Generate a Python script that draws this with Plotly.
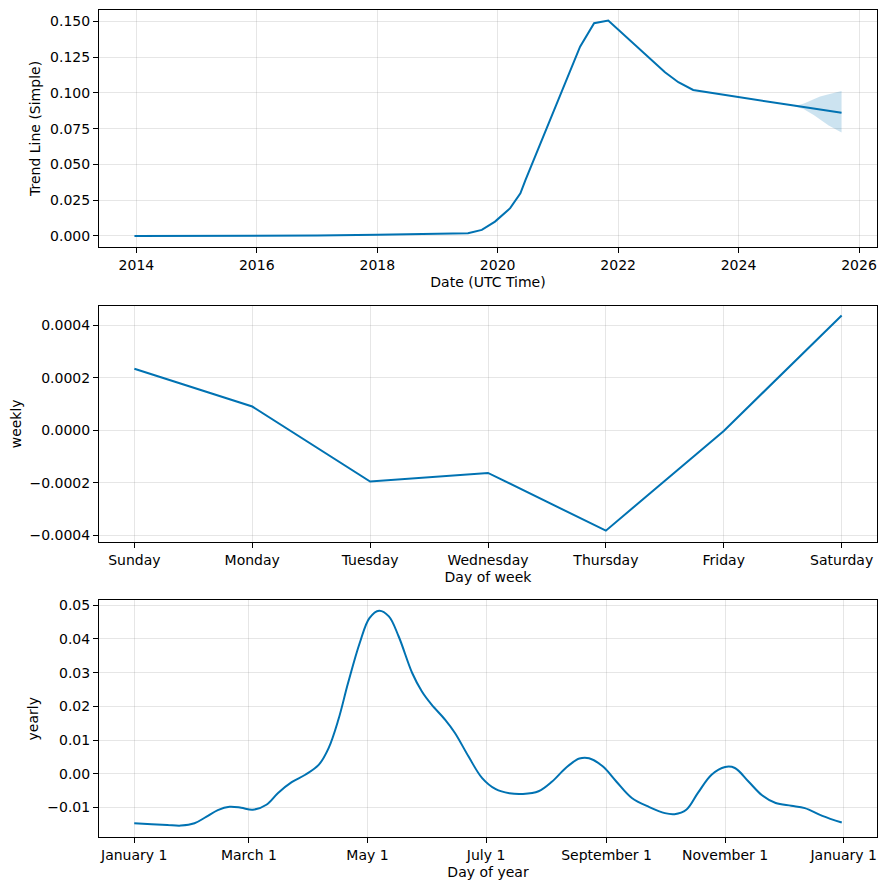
import plotly.graph_objects as go

# ---- Trend component ----
trend_dates = ["2013-12-20", "2015-06-01", "2017-01-01", "2018-01-01", "2019-07-05",
               "2019-09-27", "2019-12-16", "2020-03-17", "2020-05-18", "2020-06-17",
               "2021-05-15", "2021-08-08", "2021-11-02", "2022-10-12", "2023-01-01",
               "2023-04-01", "2024-01-01", "2024-12-01", "2025-09-17"]
trend_vals = [0.0000, 0.0000, 0.0002, 0.0008, 0.0018,
              0.0042, 0.0100, 0.0194, 0.0298, 0.0388,
              0.1323, 0.1487, 0.1505, 0.1144, 0.1074,
              0.1020, 0.0969, 0.0911, 0.0860]

band_dates = ["2024-12-05", "2025-02-01", "2025-04-01", "2025-05-10", "2025-07-01", "2025-09-17"]
band_upper = [0.0907, 0.0925, 0.0955, 0.0975, 0.0990, 0.1013]
band_lower = [0.0907, 0.0885, 0.0845, 0.0815, 0.0772, 0.0722]

# ---- Weekly component ----
week_days = ["Sunday", "Monday", "Tuesday", "Wednesday", "Thursday", "Friday", "Saturday"]
week_vals = [0.000234, 0.000090, -0.000196, -0.000163, -0.000383, -0.000003, 0.000437]

# ---- Yearly component ----
year_dates = ["2017-01-01", "2017-01-10", "2017-01-18", "2017-01-25", "2017-02-01", "2017-02-07",
              "2017-02-13", "2017-02-19", "2017-02-25", "2017-03-03", "2017-03-10", "2017-03-16",
              "2017-03-23", "2017-03-30", "2017-04-06", "2017-04-11", "2017-04-16", "2017-04-21",
              "2017-04-27", "2017-05-02", "2017-05-07", "2017-05-12", "2017-05-17", "2017-05-24",
              "2017-05-29", "2017-06-03", "2017-06-10", "2017-06-15", "2017-06-22", "2017-06-29",
              "2017-07-06", "2017-07-13", "2017-07-20", "2017-07-28", "2017-08-04", "2017-08-11",
              "2017-08-18", "2017-08-23", "2017-08-30", "2017-09-06", "2017-09-14", "2017-09-23",
              "2017-10-01", "2017-10-06", "2017-10-12", "2017-10-18", "2017-10-25", "2017-11-01",
              "2017-11-06", "2017-11-13", "2017-11-20", "2017-11-27", "2017-12-05", "2017-12-12",
              "2017-12-21", "2017-12-31"]
year_vals = [-0.0147, -0.0150, -0.0152, -0.0154, -0.0147, -0.0128,
             -0.0108, -0.0098, -0.0101, -0.0107, -0.0092, -0.0057,
             -0.0025, -0.0003, 0.0027, 0.0076, 0.0160, 0.0269,
             0.0388, 0.0462, 0.0484, 0.0467, 0.0408, 0.0299,
             0.0244, 0.0205, 0.0160, 0.0121, 0.0051, -0.0013,
             -0.0046, -0.0058, -0.0060, -0.0052, -0.0023, 0.0017,
             0.0045, 0.0046, 0.0022, -0.0023, -0.0072, -0.0099,
             -0.0117, -0.0120, -0.0107, -0.0057, -0.0003, 0.0020,
             0.0017, -0.0023, -0.0064, -0.0087, -0.0095, -0.0102,
             -0.0125, -0.0145]
year_tick_dates = ["2017-01-01", "2017-03-01", "2017-05-01", "2017-07-01",
                   "2017-09-01", "2017-11-01", "2018-01-01"]
year_tick_text = ["January 1", "March 1", "May 1", "July 1",
                  "September 1", "November 1", "January 1"]

COLOR = "#0072B2"
FILL = "rgba(0,114,178,0.2)"
GRID = "rgba(128,128,128,0.2)"
FONT = "DejaVu Sans"

fig = go.Figure()

# trend band
fig.add_trace(go.Scatter(x=band_dates, y=band_upper, mode="lines", line=dict(width=0, color=COLOR),
                         showlegend=False, hoverinfo="skip", xaxis="x", yaxis="y"))
fig.add_trace(go.Scatter(x=band_dates, y=band_lower, mode="lines", line=dict(width=0, color=COLOR),
                         fill="tonexty", fillcolor=FILL, showlegend=False, hoverinfo="skip",
                         xaxis="x", yaxis="y"))
fig.add_trace(go.Scatter(x=trend_dates, y=trend_vals, mode="lines", line=dict(color=COLOR, width=2),
                         showlegend=False, xaxis="x", yaxis="y"))

fig.add_trace(go.Scatter(x=list(range(len(week_days))), y=week_vals, mode="lines",
                         line=dict(color=COLOR, width=2), showlegend=False, xaxis="x2", yaxis="y2"))

fig.add_trace(go.Scatter(x=year_dates, y=year_vals, mode="lines",
                         line=dict(color=COLOR, width=2, shape="spline", smoothing=1.0),
                         showlegend=False, xaxis="x3", yaxis="y3"))

axis_common = dict(showline=True, linecolor="black", linewidth=1, mirror=True,
                   ticks="outside", ticklen=5, tickwidth=1, tickcolor="black",
                   showgrid=True, gridcolor=GRID, gridwidth=1, zeroline=False,
                   automargin=False,
                   tickfont=dict(family=FONT, size=14, color="black"),
                   title_font=dict(family=FONT, size=14, color="black"))

PH = 890 - 10 - 52.7
def dom(top, bottom):
    return [(837.3 - bottom) / PH, (837.3 - top) / PH]

fig.update_layout(
    width=886, height=890,
    margin=dict(l=99, r=9, t=10, b=52.7),
    paper_bgcolor="white", plot_bgcolor="white",
    font=dict(family=FONT, size=14, color="black"),
    xaxis=dict(axis_common, type="date", domain=[0, 1], anchor="y",
               range=["2013-05-19", "2026-04-20"], tick0="2014-01-01", dtick="M24",
               tickformat="%Y", title=dict(text="Date (UTC Time)", standoff=5)),
    yaxis=dict(axis_common, domain=dom(10, 247), anchor="x",
               range=[-0.0077, 0.1579], tickvals=[0, 0.025, 0.05, 0.075, 0.1, 0.125, 0.15],
               tickformat=".3f", title=dict(text="Trend Line (Simple)", standoff=6)),
    xaxis2=dict(axis_common, domain=[0, 1], anchor="y2", range=[-0.3, 6.3],
                tickvals=list(range(7)), ticktext=week_days,
                title=dict(text="Day of week", standoff=5)),
    yaxis2=dict(axis_common, domain=dom(305.7, 542.3), anchor="x2",
                range=[-0.0004267, 0.0004747],
                tickvals=[-0.0004, -0.0002, 0, 0.0002, 0.0004], tickformat=".4f",
                title=dict(text="weekly", standoff=4)),
    xaxis3=dict(axis_common, type="date", domain=[0, 1], anchor="y3",
                range=["2016-12-13 21:00", "2018-01-18 03:00"],
                tickvals=year_tick_dates, ticktext=year_tick_text,
                title=dict(text="Day of year", standoff=5)),
    yaxis3=dict(axis_common, domain=dom(600.7, 837.3), anchor="x3",
                range=[-0.01878, 0.05142],
                tickvals=[-0.01, 0, 0.01, 0.02, 0.03, 0.04, 0.05], tickformat=".2f",
                title=dict(text="yearly", standoff=5)),
)

fig.write_html("out.html", config={"displayModeBar": False},
               post_script="document.body.style.margin='0';document.body.style.overflow='hidden';")
